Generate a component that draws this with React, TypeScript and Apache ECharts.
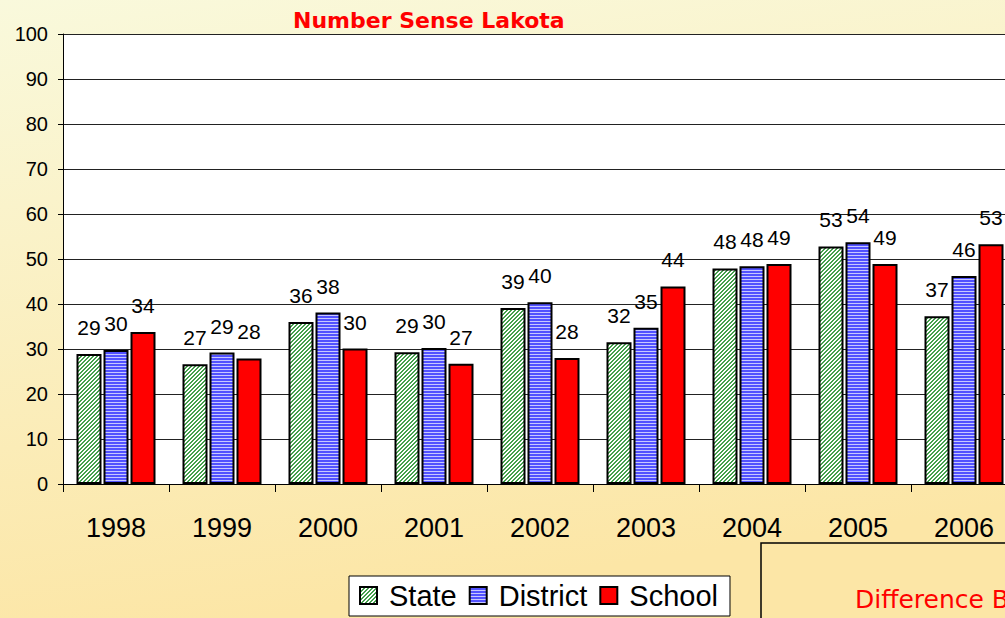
import React, { useEffect, useRef } from "react";
import * as echarts from "echarts";

const years = ["1998", "1999", "2000", "2001", "2002", "2003", "2004", "2005", "2006"];
const stateValues = [28.9, 26.6, 36.0, 29.3, 39.1, 31.5, 47.9, 52.8, 37.3];
const districtValues = [29.8, 29.2, 38.1, 30.2, 40.4, 34.7, 48.4, 53.7, 46.2];
const schoolValues = [33.8, 27.9, 30.1, 26.7, 28.0, 43.9, 48.9, 48.9, 53.3];
const seriesNames = ["State", "District", "School"];
const titleText = "Number Sense Lakota";
const noteText = "Difference Between";

const SANS = "'Liberation Sans', Arial, sans-serif";

function makePattern(kind: string) {
  const c = document.createElement("canvas");
  if (kind === "state") {
    c.width = 4; c.height = 4;
    const ctx = c.getContext("2d")!;
    ctx.fillStyle = "#ffffff";
    ctx.fillRect(0, 0, 4, 4);
    ctx.fillStyle = "#44a04c";
    for (let y = 0; y < 4; y++) for (let x = 0; x < 4; x++) {
      if ((x + y) % 4 < 2) ctx.fillRect(x, y, 1, 1);
    }
    return { image: c.toDataURL(), repeat: "repeat", imageWidth: 4, imageHeight: 4 };
  }
  c.width = 3; c.height = 3;
  const ctx = c.getContext("2d")!;
  ctx.fillStyle = "#5252ff";
  ctx.fillRect(0, 0, 3, 3);
  ctx.fillStyle = "#c8c8ff";
  ctx.fillRect(0, 0, 3, 1);
  return { image: c.toDataURL(), repeat: "repeat", imageWidth: 3, imageHeight: 3 };
}

export default function App() {
  const ref = useRef<HTMLDivElement>(null);
  useEffect(() => {
    document.body.style.margin = "0";
    const chart = echarts.init(ref.current!, null, { renderer: "svg" });
    const statePat = makePattern("state");
    const districtPat = makePattern("district");
    const labelCfg = {
      show: true,
      position: "top",
      distance: 16,
      color: "#000",
      fontSize: 21,
      fontFamily: SANS,
      formatter: (p: any) => String(Math.round(p.value)),
    };
    const mk = (name: string, data: number[], color: any) => ({
      name,
      type: "bar",
      data,
      barWidth: 25,
      barGap: "8%",
      itemStyle: { color, borderColor: "#000", borderWidth: 2 },
      label: labelCfg,
    });
    chart.setOption({
      animation: false,
      backgroundColor: {
        type: "linear", x: 0, y: 0, x2: 0.25, y2: 1,
        colorStops: [
          { offset: 0, color: "#f9f9dc" },
          { offset: 1, color: "#fce6a6" },
        ],
      },
      title: {
        text: titleText,
        left: 288,
        top: 4,
        textStyle: {
          color: "#ff0000",
          fontSize: 22,
          fontWeight: "bold",
          fontFamily: "'DejaVu Sans', sans-serif",
        },
      },
      legend: {
        data: seriesNames,
        left: 349,
        top: 576,
        backgroundColor: "#ffffff",
        borderColor: "#000",
        borderWidth: 1,
        borderRadius: 0,
        padding: [5, 12, 6, 10],
        itemWidth: 17,
        itemHeight: 17,
        itemGap: 12,
        icon: "rect",
        textStyle: {
          fontSize: 29,
          color: "#000",
          fontFamily: SANS,
          padding: [0, 0, 0, 7],
        },
      },
      grid: {
        left: 63,
        top: 34,
        width: 954,
        height: 450,
        show: true,
        backgroundColor: "#ffffff",
        borderWidth: 0,
      },
      xAxis: {
        type: "category",
        data: years,
        axisLine: { lineStyle: { color: "#000", width: 1 } },
        axisTick: { show: true, length: 8, lineStyle: { color: "#000" } },
        axisLabel: {
          fontSize: 27,
          color: "#000",
          margin: 30,
          fontFamily: SANS,
        },
      },
      yAxis: {
        type: "value",
        min: 0,
        max: 100,
        interval: 10,
        axisLine: { show: true, lineStyle: { color: "#000", width: 1 } },
        axisTick: { show: true, length: 5, lineStyle: { color: "#000" } },
        splitLine: { show: true, lineStyle: { color: "#222", width: 1 } },
        axisLabel: {
          fontSize: 20,
          color: "#000",
          margin: 15,
          fontFamily: SANS,
        },
      },
      graphic: [
        {
          type: "rect",
          shape: { x: 761, y: 543, width: 400, height: 200 },
          style: { fill: "none", stroke: "#000", lineWidth: 1.5 },
          z: 10,
        },
        {
          type: "text",
          x: 855,
          y: 612,
          style: {
            text: noteText,
            fill: "#ff0000",
            fontSize: 25,
            fontFamily: "'DejaVu Sans', sans-serif",
            textVerticalAlign: "bottom",
          },
          z: 11,
        },
      ],
      series: [
        mk(seriesNames[0], stateValues, statePat),
        mk(seriesNames[1], districtValues, districtPat),
        mk(seriesNames[2], schoolValues, "#ff0000"),
      ],
    });
    return () => chart.dispose();
  }, []);
  return (
    <div style={{ width: 1005, height: 618, overflow: "hidden", position: "relative" }}>
      <div ref={ref} style={{ width: 1030, height: 618 }} />
    </div>
  );
}
